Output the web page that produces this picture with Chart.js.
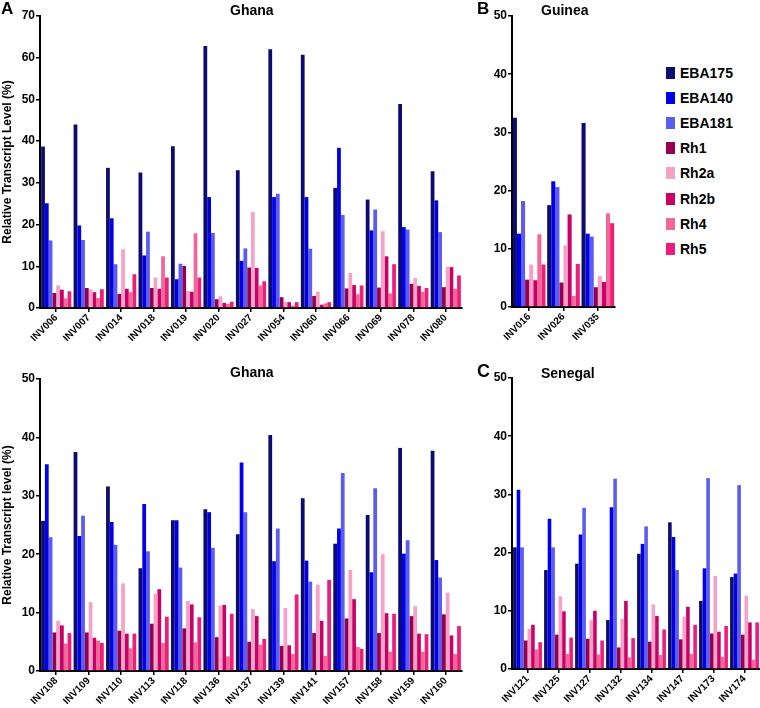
<!DOCTYPE html>
<html>
<head>
<meta charset="utf-8">
<script src="https://cdn.jsdelivr.net/npm/chart.js@4/dist/chart.umd.min.js"></script>
<style>
  body { margin: 0; background: #fff; font-family: "Liberation Sans", Arial, sans-serif; }
  #wrap { position: relative; width: 760px; height: 708px; overflow: hidden; }
  canvas { position: absolute; }
  .txt { position: absolute; font-weight: bold; color: #000; line-height: 1; white-space: nowrap; }
  .legend-box { position: absolute; width: 9px; height: 12px; }
</style>
</head>
<body>
<div id="wrap">
  <canvas id="chartA" width="470" height="345" style="left:0;top:0"></canvas>
  <canvas id="chartB" width="140" height="345" style="left:480px;top:0"></canvas>
  <canvas id="chartD" width="470" height="348" style="left:0;top:360px"></canvas>
  <canvas id="chartC" width="280" height="348" style="left:480px;top:360px"></canvas>

  <div class="txt" style="left:1px;top:0px;font-size:17px">A</div>
  <div class="txt" style="left:477px;top:0px;font-size:17px">B</div>
  <div class="txt" style="left:477px;top:362px;font-size:18px">C</div>

  <div class="txt" style="left:230px;top:3px;font-size:14px">Ghana</div>
  <div class="txt" style="left:541px;top:3px;font-size:14px">Guinea</div>
  <div class="txt" style="left:230px;top:365px;font-size:14px">Ghana</div>
  <div class="txt" style="left:541px;top:366px;font-size:14px">Senegal</div>

  <div id="legend"></div>
</div>

<script>
/* ---------- series ---------- */
const seriesNames  = ["EBA175", "EBA140", "EBA181", "Rh1", "Rh2a", "Rh2b", "Rh4", "Rh5"];
const seriesColors = ["#0b0b72", "#0000ee", "#5c5cf2", "#98004f", "#f5a2c9", "#c90065", "#f2679a", "#ef1d7a"];

/* ---------- A: Ghana (top) ---------- */
const ghanaTopIsolates = ["INV006", "INV007", "INV014", "INV018", "INV019", "INV020", "INV027",
                          "INV054", "INV060", "INV066", "INV069", "INV078", "INV080"];
// one row per isolate, columns in seriesNames order
const ghanaTopValues = [
    [38.7, 25.1, 16.2,  3.6,  5.4,  4.4,  2.3,  4.0],
    [44.0, 19.8, 16.3,  4.8,  4.5,  3.8,  2.4,  4.5],
    [33.6, 21.5, 10.5,  3.4, 14.1,  4.6,  3.8,  8.1],
    [32.5, 12.6, 18.3,  4.8,  7.3,  4.6, 12.4,  7.3],
    [38.8,  6.9, 10.6, 10.1,  4.1,  3.9, 17.9,  7.3],
    [62.8, 26.6, 18.0,  2.1,  2.8,  1.2,  1.0,  1.5],
    [33.0, 11.3, 14.3,  9.7, 23.0,  9.6,  5.4,  6.4],
    [62.0, 26.6, 27.4,  2.6,  1.4,  1.4,  0.6,  1.4],
    [60.7, 26.6, 14.2,  2.9,  3.9,  0.8,  1.1,  1.4],
    [28.8, 38.4, 22.3,  4.7,  8.4,  5.5,  3.3,  5.4],
    [26.0, 18.6, 23.6,  4.9, 18.4, 12.4,  3.5, 10.5],
    [48.9, 19.4, 18.8,  5.8,  7.2,  5.3,  3.9,  4.8],
    [32.8, 25.8, 18.2,  5.0,  9.9,  9.8,  4.6,  7.8]
];

/* ---------- B: Guinea ---------- */
const guineaIsolates = ["INV016", "INV026", "INV035"];
const guineaValues = [
    [32.5, 12.6, 18.2,  4.7,  7.3,  4.6, 12.5,  7.3],
    [17.5, 21.6, 20.6,  4.2, 10.6, 15.9,  1.9,  7.4],
    [31.6, 12.6, 12.1,  3.4,  5.3,  4.3, 16.1, 14.4]
];

/* ---------- Ghana (bottom) ---------- */
const ghanaBottomIsolates = ["INV108", "INV109", "INV110", "INV113", "INV118", "INV136", "INV137",
                             "INV139", "INV141", "INV157", "INV158", "INV159", "INV160"];
const ghanaBottomValues = [
    [25.7, 35.4, 22.9,  6.6,  8.6,  7.8,  4.7,  6.5],
    [37.5, 23.1, 26.6,  6.6, 11.8,  5.7,  5.2,  4.8],
    [31.6, 25.5, 21.6,  6.9, 15.0,  6.4,  3.9,  6.4],
    [17.6, 28.6, 20.5,  8.1, 13.2, 14.0,  4.8,  9.3],
    [25.8, 25.8, 17.7,  7.3, 12.0, 11.4,  4.9,  9.2],
    [27.7, 27.2, 21.1,  5.8, 11.2, 11.3,  2.5,  9.8],
    [23.4, 35.7, 27.2,  5.0, 10.6,  9.4,  4.5,  5.5],
    [40.4, 18.8, 24.4,  4.3, 10.8,  4.4,  2.9, 13.1],
    [29.6, 18.9, 15.3,  6.5, 14.8,  8.6,  2.6, 15.6],
    [21.8, 24.4, 33.9,  9.0, 17.3, 12.3,  4.1,  3.8],
    [26.7, 16.9, 31.3,  6.5, 20.0,  9.9,  3.3,  9.8],
    [38.2, 20.1, 22.4,  9.4, 11.1,  6.4,  3.3,  6.3],
    [37.7, 19.0, 16.0,  9.7, 13.4,  6.1,  2.9,  7.7]
];

/* ---------- C: Senegal ---------- */
const senegalIsolates = ["INV121", "INV125", "INV127", "INV132", "INV134", "INV147", "INV173", "INV174"];
const senegalValues = [
    [20.9, 30.8, 20.9,  4.9,  6.9,  7.6,  3.4,  4.6],
    [17.0, 25.8, 20.9,  5.9, 12.5,  9.9,  2.6,  5.4],
    [18.1, 23.1, 27.7,  5.2,  8.4, 10.0,  2.5,  4.9],
    [ 8.4, 27.8, 32.7,  3.7,  8.6, 11.7,  2.0,  5.3],
    [19.8, 21.5, 24.5,  4.7, 11.1,  9.1,  2.4,  6.8],
    [25.2, 22.7, 17.0,  5.1,  9.0, 10.7,  2.6,  7.6],
    [11.7, 17.3, 32.8,  6.1, 16.0,  6.4,  2.1,  7.4],
    [15.8, 16.4, 31.6,  5.9, 12.6,  8.0,  1.6,  8.0]
];

Chart.defaults.font.family = '"Liberation Sans", Arial, sans-serif';
Chart.defaults.color = "#000";

/* -------------------------------
   Build one panel
--------------------------------*/
function makePanel(id, isolates, rows, yMax, cfg) {
    const datasets = seriesNames.map((name, s) => ({
        label: name,
        data: rows.map(r => r[s]),
        backgroundColor: seriesColors[s],
        borderWidth: 0,
        barPercentage: 1,
        categoryPercentage: cfg.catPct
    }));

    return new Chart(document.getElementById(id), {
        type: "bar",
        data: { labels: isolates, datasets: datasets },
        options: {
            responsive: false,
            animation: false,
            devicePixelRatio: 1,
            layout: { padding: { top: cfg.top, right: cfg.right, left: 0, bottom: 0 } },
            plugins: { legend: { display: false }, tooltip: { enabled: false } },
            scales: {
                x: {
                    grid: { offset: false, drawOnChartArea: false, tickLength: 4, color: "#000", lineWidth: 1.5 },
                    border: { color: "#000", width: 2 },
                    ticks: { autoSkip: false, minRotation: 45, maxRotation: 45, padding: 0,
                             font: { size: 10, weight: "bold" } },
                    afterFit: s => { s.height = cfg.xH; }
                },
                y: {
                    min: 0,
                    max: yMax,
                    grid: { drawOnChartArea: false, tickLength: 4, color: "#000", lineWidth: 1.5 },
                    border: { color: "#000", width: 2 },
                    ticks: { stepSize: 10, padding: 1, font: { size: 12, weight: "bold" } },
                    title: {
                        display: !!cfg.yTitle,
                        text: cfg.yTitle || "",
                        padding: 0,
                        font: { size: 12, weight: "bold" }
                    },
                    afterFit: s => { s.width = cfg.yW; }
                }
            }
        }
    });
}

makePanel("chartA", ghanaTopIsolates, ghanaTopValues, 70,
    { top: 16, right: 8, xH: 37, yW: 40, catPct: 0.93, yTitle: "Relative Transcript Level (%)" });
makePanel("chartB", guineaIsolates, guineaValues, 50,
    { top: 16, right: 5, xH: 38, yW: 32, catPct: 0.95 });
makePanel("chartD", ghanaBottomIsolates, ghanaBottomValues, 50,
    { top: 19, right: 8, xH: 37, yW: 40, catPct: 0.93, yTitle: "Relative Transcript level (%)" });
makePanel("chartC", senegalIsolates, senegalValues, 50,
    { top: 18, right: 0, xH: 39, yW: 32, catPct: 0.93 });

/* -------------------------------
   Legend (right of Guinea)
--------------------------------*/
const legend = document.getElementById("legend");
seriesNames.forEach((name, i) => {
    const cy = 73 + i * 25.1;
    const box = document.createElement("div");
    box.className = "legend-box";
    box.style.left = "666px";
    box.style.top = (cy - 6) + "px";
    box.style.background = seriesColors[i];
    legend.appendChild(box);

    const t = document.createElement("div");
    t.className = "txt";
    t.style.left = "680px";
    t.style.top = (cy - 7) + "px";
    t.style.fontSize = "14px";
    t.textContent = name;
    legend.appendChild(t);
});
</script>
</body>
</html>
